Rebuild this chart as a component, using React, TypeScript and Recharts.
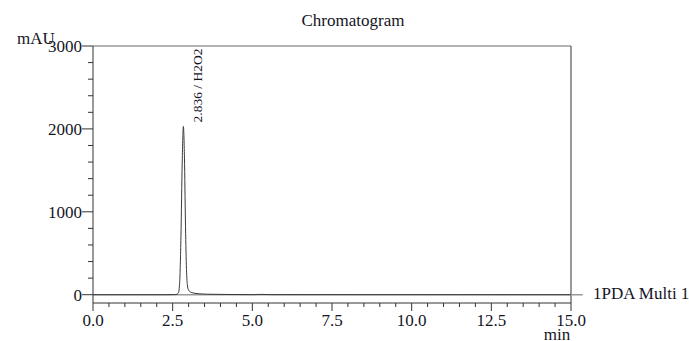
import React from 'react';
import { LineChart, Line, XAxis, YAxis, ReferenceLine } from 'recharts';

const times = [0, 2.3, 2.6, 2.68, 2.72, 2.76, 2.8, 2.836, 2.87, 2.9, 2.93, 2.96, 3.0, 3.1, 3.3, 3.6, 4.2, 5.0, 5.3, 5.6, 15];
const signal = [0, 0, 2, 20, 150, 700, 1600, 2030, 1650, 900, 350, 120, 55, 25, 12, 6, 3, 1, 4, 1, 0];

const xTicks = [0, 0.5, 1, 1.5, 2, 2.5, 3, 3.5, 4, 4.5, 5, 5.5, 6, 6.5, 7, 7.5, 8, 8.5, 9, 9.5, 10, 10.5, 11, 11.5, 12, 12.5, 13, 13.5, 14, 14.5, 15];
const xMajor = [0, 2.5, 5, 7.5, 10, 12.5, 15];
const xMajorLabels = ['0.0', '2.5', '5.0', '7.5', '10.0', '12.5', '15.0'];
const yTicks = [0, 200, 400, 600, 800, 1000, 1200, 1400, 1600, 1800, 2000, 2200, 2400, 2600, 2800, 3000];
const yMajor = [0, 1000, 2000, 3000];

const peakTime = 2.836;
const peakLabel = '2.836 / H2O2';
const title = 'Chromatogram';
const yUnit = 'mAU';
const xUnit = 'min';
const channel = '1PDA Multi 1';

const data = times.map((t, i) => ({ t, v: signal[i] }));
const peakIndex = times.indexOf(peakTime);

const FONT = '"Liberation Serif", "Times New Roman", serif';
const TXT = '#15151f';
const AX = '#333';
const FS = 17;

const YTick = (props: any) => {
  const { x, y, payload } = props;
  const v = payload.value;
  const major = yMajor.includes(v);
  return (
    <g>
      <line x1={x - (major ? 11 : 5)} x2={x} y1={y} y2={y} stroke={AX} strokeWidth={1} />
      {major && (
        <text x={x - 11} y={y} dy="0.35em" textAnchor="end" fontFamily={FONT} fontSize={FS} fill={TXT}>
          {v}
        </text>
      )}
    </g>
  );
};

const XTick = (props: any) => {
  const { x, y, payload } = props;
  const v = payload.value;
  const mi = xMajor.indexOf(v);
  const major = mi >= 0;
  return (
    <g>
      <line x1={x} x2={x} y1={y} y2={y + (major ? 8 : 4)} stroke={AX} strokeWidth={1} />
      {major && (
        <text x={x} y={y + 23} textAnchor="middle" fontFamily={FONT} fontSize={FS} fill={TXT}>
          {xMajorLabels[mi]}
        </text>
      )}
    </g>
  );
};

const PeakLabel = (props: any) => {
  const { x, y, index } = props;
  if (index !== peakIndex) return <g />;
  const tx = x + 18.5;
  const ty = y - 4;
  return (
    <text
      x={tx}
      y={ty}
      transform={`rotate(-90 ${tx} ${ty})`}
      textAnchor="start"
      fontFamily={FONT}
      fontSize={13.5}
      fill={TXT}
    >
      {peakLabel}
    </text>
  );
};

export default function App() {
  return (
    <div style={{ position: 'absolute', left: 0, top: 0, width: 689, height: 341 }}>
      <LineChart width={689} height={341} data={data} margin={{ top: 46, right: 118, bottom: 0, left: 0 }}>
        <XAxis
          dataKey="t"
          type="number"
          domain={[0, 15]}
          ticks={xTicks}
          interval={0}
          tickSize={0}
          tickMargin={0}
          height={38}
          tick={<XTick />}
          axisLine={{ stroke: AX, strokeWidth: 1 }}
          tickLine={false}
          allowDataOverflow
        />
        <YAxis
          type="number"
          domain={[-100, 3000]}
          ticks={yTicks}
          interval={0}
          tickSize={0}
          tickMargin={0}
          width={93}
          tick={<YTick />}
          axisLine={{ stroke: AX, strokeWidth: 1 }}
          tickLine={false}
          allowDataOverflow
        />
        <ReferenceLine y={3000} stroke="#9a9a9a" strokeWidth={1.5} />
        <ReferenceLine x={15} stroke={AX} strokeWidth={1} />
        <ReferenceLine
          segment={[{ x: 0, y: 0 }, { x: 15.37, y: 0 }]}
          ifOverflow="visible"
          stroke="#9a9a9a"
          strokeWidth={1.5}
        />
        <Line
          dataKey="v"
          type="monotone"
          stroke="#3a3a3a"
          strokeWidth={1}
          dot={false}
          isAnimationActive={false}
          label={<PeakLabel />}
        />
      </LineChart>
      <svg width={689} height={341} style={{ position: 'absolute', left: 0, top: 0, pointerEvents: 'none' }}>
        <text x={353} y={26} textAnchor="middle" fontFamily={FONT} fontSize={FS} fill={TXT}>{title}</text>
        <text x={17} y={44} fontFamily={FONT} fontSize={FS} fill={TXT}>{yUnit}</text>
        <text x={557} y={340} textAnchor="middle" fontFamily={FONT} fontSize={FS} fill={TXT}>{xUnit}</text>
        <text x={593} y={299} fontFamily={FONT} fontSize={FS} fill={TXT}>{channel}</text>
      </svg>
    </div>
  );
}
